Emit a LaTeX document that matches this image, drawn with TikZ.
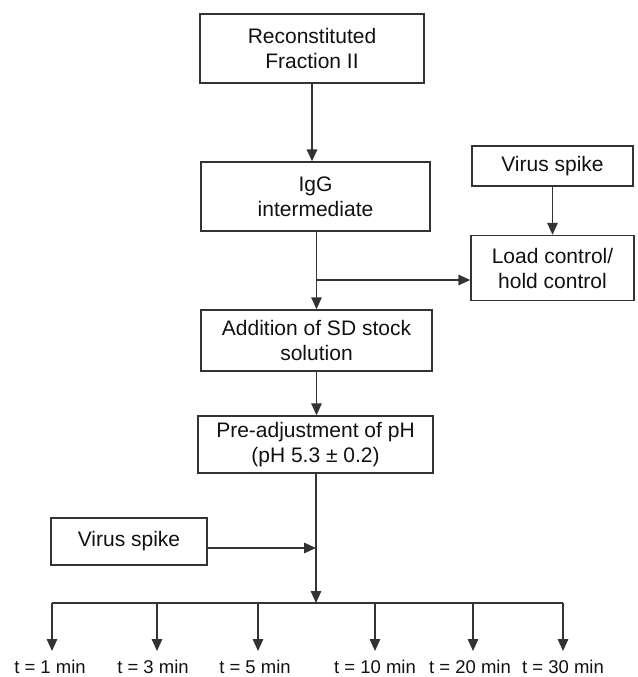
\documentclass[tikz,border=0pt]{standalone}
\usepackage{fontspec}
\setmainfont{Liberation Sans}
\usetikzlibrary{arrows.meta,calc}
\definecolor{ln}{HTML}{333333}
\definecolor{tx}{HTML}{111111}
\tikzset{
  box/.style={draw=ln, line width=1.4pt, rectangle, inner sep=0pt, align=center,
    text=tx, font=\fontsize{21}{25}\selectfont},
  arr/.style={draw=ln, line width=1.4pt, -{Triangle[length=12pt,width=10.5pt]}},
  ln/.style={draw=ln, line width=1.4pt},
  lbl/.style={text=tx, font=\fontsize{18.5}{22}\selectfont, inner sep=0pt}
}
\begin{document}
\begin{tikzpicture}[x=1pt,y=-1pt]
\useasboundingbox (0,0) rectangle (637,677);
\node[box, minimum width=224pt, minimum height=69pt] (b1) at (312,48.5) {Reconstituted\\Fraction II};
\node[box, minimum width=229pt, minimum height=69pt] (b2) at (315.5,196.5) {IgG\\intermediate};
\node[box, minimum width=161pt, minimum height=40pt] (vs1) at (552.5,166) {Virus spike};
\node[box, minimum width=163pt, minimum height=65pt] (lc) at (552.5,268) {Load control/\\hold control};
\node[box, minimum width=231pt, minimum height=61pt] (add) at (316.5,340.5) {Addition of SD stock\\solution};
\node[box, minimum width=235pt, minimum height=57pt] (pre) at (315.5,444.5) {Pre-adjustment of pH\\(pH 5.3 ± 0.2)};
\node[box, minimum width=156pt, minimum height=47pt] (vs2) at (129,541.5) {Virus spike};

\coordinate (br) at (316.5,280);
\coordinate (jn) at (316,548);
\coordinate (bar) at (316,603);
\coordinate (barL) at (52,603);
\coordinate (barR) at (563,603);

\draw[arr] (b1.south) -- (b1.south |- b2.north);
\draw[arr] (vs1.south) -- (lc.north);
\draw[arr] (b2.south -| add.north) -- (add.north);
\draw[arr] (br) -- (br -| lc.west);
\draw[arr] (add.south) -- (add.south |- pre.north);
\draw[arr] (pre.south -| bar) -- (bar);
\draw[arr] (vs2.east |- jn) -- (jn);
\draw[ln] (barL) -- (barR);

\foreach \i/\x/\tx/\t in {1/52/50/{t = 1 min},2/157/153/{t = 3 min},3/258/255/{t = 5 min},4/375/375/{t = 10 min},5/473/470/{t = 20 min},6/563/563/{t = 30 min}}{
  \node[lbl] (t\i) at (\tx,667) {\t};
  \coordinate (e\i) at (\x,651);
  \draw[arr] (\x,603) -- (e\i);
}
\end{tikzpicture}
\end{document}
